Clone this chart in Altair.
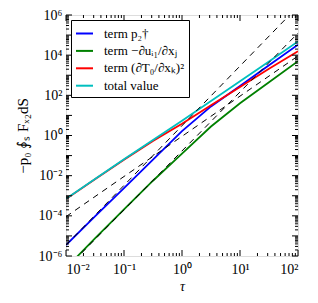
import altair as alt
import pandas as pd

# ---- data ----
tau = [0.01, 0.0316, 0.1, 0.316, 1.0, 3.16, 10.0, 31.6, 100.0]
term_p2 = [3.5e-6, 9.3e-5, 2.4e-3, 0.063, 1.66, 28, 295, 3160, 33100]
term_du = [2.5e-7, 7.6e-6, 2.1e-4, 5.6e-3, 0.126, 2.8, 40, 447, 5000]
term_dT = [6.9e-4, 6.6e-3, 0.062, 0.54, 3.8, 32, 263, 2090, 15850]
total = [7.1e-4, 6.8e-3, 0.065, 0.59, 5.5, 52, 500, 4900, 47900]

series_names = ["term p₂†", "term −∂uᵢ₁/∂xⱼ", "term (∂T₀/∂xₖ)²", "total value"]
series_colors = ["#0000ff", "#008000", "#ff0000", "#00bfbf"]

# dashed reference power laws (end points)
ref_tau = [0.01, 100.0]
ref_a = [3.5e-6, 2.7e6]
ref_b = [2.3e-7, 1.26e5]
ref_c = [9.1e-5, 9.1e3]

x_major = [0.01, 0.1, 1, 10, 100]
x_labels = ["10⁻²", "10⁻¹", "10⁰", "10¹", "10²"]
y_labeled = [1e-6, 1e-4, 1e-2, 1, 1e2, 1e4, 1e6]
y_labels = ["10⁻⁶", "10⁻⁴", "10⁻²", "10⁰", "10²", "10⁴", "10⁶"]

W, H = 232, 241
FONT = "Liberation Serif"

rows = []
for name, vals in zip(series_names, [term_p2, term_du, term_dT, total]):
    for t, v in zip(tau, vals):
        rows.append({"tau": t, "val": v, "series": name})
df = pd.DataFrame(rows)

ref_rows = []
for k, vals in zip(["a", "b", "c"], [ref_a, ref_b, ref_c]):
    for t, v in zip(ref_tau, vals):
        ref_rows.append({"tau": t, "val": v, "ref": k})
dref = pd.DataFrame(ref_rows)

xs = alt.Scale(type="log", domain=[0.01, 100], nice=False)
ys = alt.Scale(type="log", domain=[1e-6, 1e6], nice=False)

xlab_expr = "[" + ",".join("'%s'" % s for s in x_labels) + "][round(log(datum.value)/LN10)+2]"
ylab_expr = "[" + ",".join("'%s'" % s for s in y_labels) + "][round(log(datum.value)/LN10/2)+3]"

xaxis = alt.Axis(values=x_major, labelExpr=xlab_expr, ticks=False, domain=False, grid=False,
                 title="τ", titleFontStyle="italic", titleFontWeight="normal",
                 labelFontSize=14, titleFontSize=14, labelPadding=6, titlePadding=3,
                 labelFont=FONT, titleFont=FONT, labelColor="#000", titleColor="#000")
yaxis = alt.Axis(values=y_labeled, labelExpr=ylab_expr, ticks=False, domain=False, grid=False,
                 title="−p₀ ∮ₛ Fₓ₂dS", titleFontWeight="normal",
                 labelFontSize=14, titleFontSize=15, labelPadding=4, titlePadding=8,
                 labelFont=FONT, titleFont=FONT, labelColor="#000", titleColor="#000")

lines = alt.Chart(df).mark_line(strokeWidth=1.8, clip=True).encode(
    x=alt.X("tau:Q", scale=xs, axis=xaxis),
    y=alt.Y("val:Q", scale=ys, axis=yaxis),
    color=alt.Color("series:N", sort=series_names,
                    scale=alt.Scale(domain=series_names, range=series_colors),
                    legend=alt.Legend(title=None, orient="none", legendX=5, legendY=5,
                                      symbolType="stroke", symbolSize=289, symbolStrokeWidth=2,
                                      labelFont=FONT, labelFontSize=13, labelColor="#000",
                                      labelOffset=10, padding=4, rowPadding=0.4,
                                      fillColor="white", strokeColor="black",
                                      labelLimit=300)),
)

dashed = alt.Chart(dref).mark_line(color="black", strokeWidth=1, strokeDash=[6, 5], clip=True).encode(
    x=alt.X("tau:Q", scale=xs, axis=xaxis),
    y=alt.Y("val:Q", scale=ys, axis=yaxis),
    detail="ref:N",
)

# tick marks (inward, all four sides)
xmin = [m * 10.0 ** k for k in range(-2, 2) for m in range(2, 10)]
ymaj = [10.0 ** k for k in range(-6, 7)]
ymin = [m * 10.0 ** k for k in range(-6, 6) for m in range(2, 10)]

def xticks(vals, length):
    d = pd.DataFrame({"tau": vals})
    base = alt.Chart(d).mark_rule(color="black", strokeWidth=1)
    b = base.encode(x=alt.X("tau:Q", scale=xs, axis=xaxis), y=alt.value(H), y2=alt.value(H - length))
    t = base.encode(x=alt.X("tau:Q", scale=xs, axis=xaxis), y=alt.value(0), y2=alt.value(length))
    return [b, t]

def yticks(vals, length):
    d = pd.DataFrame({"val": vals})
    base = alt.Chart(d).mark_rule(color="black", strokeWidth=1)
    l = base.encode(y=alt.Y("val:Q", scale=ys, axis=yaxis), x=alt.value(0), x2=alt.value(length))
    r = base.encode(y=alt.Y("val:Q", scale=ys, axis=yaxis), x=alt.value(W), x2=alt.value(W - length))
    return [l, r]

tick_layers = xticks(x_major, 6) + xticks(xmin, 3) + yticks(ymaj, 6) + yticks(ymin, 3)

chart = alt.layer(lines, dashed, *tick_layers).properties(
    width=W, height=H,
    autosize=alt.AutoSizeParams(type="none"),
    padding={"left": 58, "top": 7, "right": 12, "bottom": 40},
).configure_view(stroke="black", strokeWidth=1.5).configure(background="white")

chart.save("out.html", embed_options={"renderer": "svg", "actions": False})
